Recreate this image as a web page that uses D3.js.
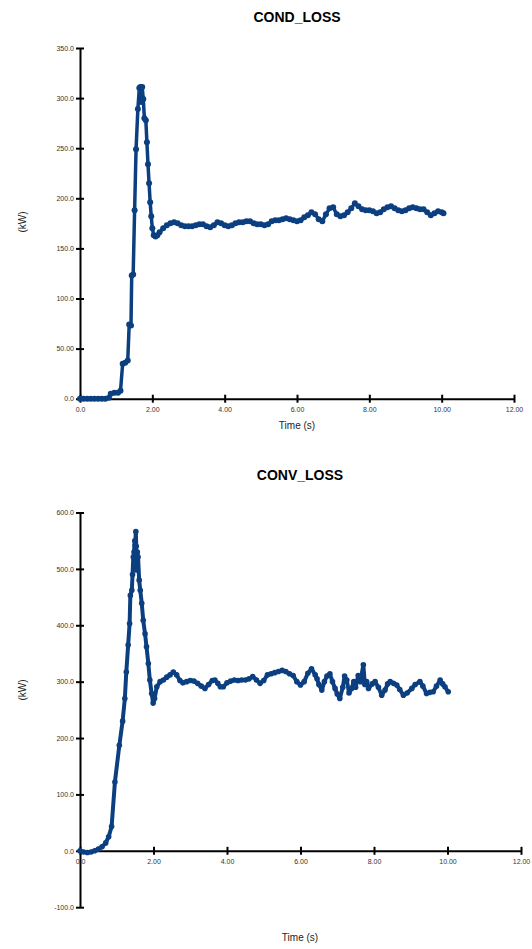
<!DOCTYPE html>
<html>
<head>
<meta charset="utf-8">
<script src="https://cdn.jsdelivr.net/npm/d3@7"></script>
<style>
  body { margin: 0; background: #fff; }
  svg { display: block; }
  .axis path, .axis line { stroke: #000; stroke-width: 2; }
  .axis text { font-family: "Liberation Sans", Arial, sans-serif; font-size: 7px; fill: #333; }
  .title { font-family: "Liberation Sans", Arial, sans-serif; font-size: 14px; font-weight: bold; }
  .lab { font-family: "Liberation Sans", Arial, sans-serif; font-size: 10px; fill: #222; }
</style>
</head>
<body>
<div id="chart"></div>
<script>
var blue = '#0c3f80';

// COND_LOSS (kW) vs time (s)
var condTime = [0.0, 0.1, 0.2, 0.3, 0.4, 0.5, 0.6, 0.7, 0.8, 0.85, 0.95, 1.05, 1.12, 1.18, 1.25, 1.32, 1.36, 1.41, 1.43, 1.47,
  1.51, 1.55, 1.6, 1.64, 1.67, 1.69, 1.72, 1.75, 1.78, 1.82, 1.85, 1.88, 1.91, 1.94, 1.97, 2.0, 2.04, 2.09, 2.14, 2.2,
  2.3, 2.4, 2.5, 2.6, 2.7, 2.8, 2.9, 3.0, 3.1, 3.2, 3.3, 3.4, 3.5, 3.6, 3.7, 3.8, 3.9, 4.0, 4.1, 4.2,
  4.3, 4.4, 4.5, 4.6, 4.7, 4.8, 4.9, 5.0, 5.1, 5.2, 5.3, 5.4, 5.5, 5.6, 5.7, 5.8, 5.9, 6.0, 6.1, 6.2,
  6.3, 6.4, 6.5, 6.6, 6.7, 6.8, 6.9, 7.0, 7.1, 7.2, 7.3, 7.4, 7.5, 7.6, 7.7, 7.8, 7.9, 8.0, 8.1, 8.2,
  8.3, 8.4, 8.5, 8.6, 8.7, 8.8, 8.9, 9.0, 9.1, 9.2, 9.3, 9.4, 9.5, 9.6, 9.7, 9.8, 9.9, 10.0, 10.05];
var condLoss = [0, 0, 0, 0, 0, 0, 0, 0, 1, 5, 6, 6, 8, 35, 36, 38, 74, 73, 123, 124,
  188, 249, 289, 310, 311, 296, 311, 299, 280, 278, 256, 234, 215, 196, 182, 170, 163, 162, 163, 166,
  170, 173, 175, 176, 175, 173, 172, 172, 172, 173, 174, 174, 172, 171, 173, 176, 175, 173, 172, 173,
  175, 176, 176, 177, 177, 175, 174, 174, 173, 174, 177, 178, 178, 179, 180, 179, 178, 177, 178, 181,
  183, 186, 184, 179, 177, 184, 190, 191, 184, 182, 183, 186, 190, 195, 192, 189, 188, 188, 187, 185,
  186, 189, 191, 192, 190, 188, 187, 188, 190, 191, 190, 189, 189, 186, 183, 185, 187, 186, 185];

// CONV_LOSS (kW) vs time (s)
var convTime = [0.0, 0.1, 0.2, 0.3, 0.4, 0.5, 0.6, 0.7, 0.78, 0.86, 0.95, 1.07, 1.16, 1.22, 1.26, 1.31, 1.35, 1.37, 1.41, 1.43,
  1.45, 1.47, 1.49, 1.5, 1.52, 1.53, 1.54, 1.56, 1.58, 1.61, 1.64, 1.68, 1.72, 1.77, 1.81, 1.86, 1.9, 1.95, 1.99, 2.03,
  2.09, 2.18, 2.27, 2.36, 2.45, 2.54, 2.63, 2.72, 2.8, 2.9, 3.0, 3.1, 3.2, 3.3, 3.4, 3.5, 3.6, 3.67, 3.75, 3.82,
  3.9, 4.0, 4.1, 4.2, 4.3, 4.4, 4.5, 4.6, 4.7, 4.8, 4.9, 5.0, 5.1, 5.2, 5.3, 5.4, 5.5, 5.6, 5.7, 5.8,
  5.9, 6.0, 6.1, 6.2, 6.3, 6.4, 6.45, 6.5, 6.58, 6.65, 6.72, 6.8, 6.87, 6.94, 7.0, 7.07, 7.15, 7.2, 7.26, 7.32,
  7.39, 7.45, 7.5, 7.57, 7.63, 7.71, 7.75, 7.8, 7.85, 7.95, 8.03, 8.12, 8.21, 8.3, 8.37, 8.44, 8.53, 8.62, 8.7, 8.8,
  8.9, 9.03, 9.12, 9.25, 9.33, 9.43, 9.52, 9.61, 9.7, 9.8, 9.87, 9.93, 10.02];
var convLoss = [0, -2, -3, -2, 0, 3, 7, 14, 25, 43, 122, 187, 230, 270, 317, 365, 403, 453, 462, 490,
  521, 530, 550, 542, 566, 540, 498, 530, 521, 480, 462, 439, 409, 385, 362, 332, 303, 279, 262, 270,
  291, 300, 303, 308, 312, 317, 312, 302, 298, 300, 302, 301, 297, 292, 288, 295, 302, 303, 297, 291,
  291, 298, 301, 303, 302, 303, 303, 305, 309, 303, 297, 302, 312, 314, 316, 318, 320, 318, 314, 311,
  300, 294, 300, 315, 323, 312, 305, 295, 285, 300, 310, 314, 300, 288, 278, 270, 290, 310, 303, 280,
  288, 300, 290, 311, 300, 330, 295, 300, 288, 296, 300, 290, 276, 285, 296, 300, 297, 294, 286, 276,
  280, 288, 295, 300, 292, 279, 281, 282, 292, 303, 296, 291, 282];

var xTicks = [0, 2, 4, 6, 8, 10, 12];
var xTickLabels = ['0.0', '2.00', '4.00', '6.00', '8.00', '10.00', '12.00'];
var condTicks = [0, 50, 100, 150, 200, 250, 300, 350];
var condTickLabels = ['0.0', '50.00', '100.0', '150.0', '200.0', '250.0', '300.0', '350.0'];
var convTicks = [-100, 0, 100, 200, 300, 400, 500, 600];
var convTickLabels = ['-100.0', '0.0', '100.0', '200.0', '300.0', '400.0', '500.0', '600.0'];

var svg = d3.select('#chart').append('svg')
  .attr('width', 532)
  .attr('height', 949);

function drawPanel(opt) {
  var x = d3.scaleLinear().domain([0, 12]).range([opt.left, opt.right]);
  var y = d3.scaleLinear().domain(opt.yDomain).range(opt.yRange);

  var g = svg.append('g');

  // title and axis labels
  g.append('text').attr('class', 'title')
    .attr('x', opt.titleX).attr('y', opt.titleY)
    .attr('text-anchor', 'middle').text(opt.title);
  g.append('text').attr('class', 'lab')
    .attr('x', opt.titleX).attr('y', opt.xLabY)
    .attr('text-anchor', 'middle').text('Time (s)');
  g.append('text').attr('class', 'lab')
    .attr('transform', 'translate(26,' + opt.yLabY + ') rotate(-90)')
    .attr('text-anchor', 'middle').text('(kW)');

  // x axis sits at value 0
  var xAxis = d3.axisBottom(x).tickValues(xTicks)
    .tickFormat(function(d, i) { return xTickLabels[i]; })
    .tickSize(4).tickSizeOuter(0).tickPadding(4);
  var gx = g.append('g').attr('class', 'axis')
    .attr('transform', 'translate(0,' + y(0) + ')')
    .call(xAxis);
  gx.selectAll('.tick line').attr('y1', -4);
  gx.selectAll('.tick text').attr('dy', '0.71em');

  var yAxis = d3.axisLeft(y).tickValues(opt.yTicks)
    .tickFormat(function(d, i) { return opt.yTickLabels[i]; })
    .tickSize(4).tickSizeOuter(0).tickPadding(2);
  var gy = g.append('g').attr('class', 'axis')
    .attr('transform', 'translate(' + opt.left + ',0)')
    .call(yAxis);
  gy.selectAll('.tick line').attr('x1', 4);
  gy.selectAll('.tick').filter(function(d) { return d === 0; }).select('line').attr('x1', 0);

  var pts = opt.t.map(function(d, i) { return [d, opt.v[i]]; });
  var line = d3.line()
    .x(function(d) { return x(d[0]); })
    .y(function(d) { return y(d[1]); });

  g.append('path').datum(pts)
    .attr('fill', 'none')
    .attr('stroke', blue)
    .attr('stroke-width', opt.lw)
    .attr('stroke-linejoin', 'round')
    .attr('d', line);

  g.selectAll('circle.m').data(pts).enter().append('circle')
    .attr('class', 'm')
    .attr('cx', function(d) { return x(d[0]); })
    .attr('cy', function(d) { return y(d[1]); })
    .attr('r', opt.r)
    .attr('fill', blue);
}

drawPanel({
  title: 'COND_LOSS', titleX: 297, titleY: 22, xLabY: 429, yLabY: 222,
  left: 80, right: 514,
  yDomain: [0, 350], yRange: [398.7, 48],
  yTicks: condTicks, yTickLabels: condTickLabels,
  t: condTime, v: condLoss, lw: 3.5, r: 3
});

drawPanel({
  title: 'CONV_LOSS', titleX: 300, titleY: 480, xLabY: 941, yLabY: 690,
  left: 80, right: 521,
  yDomain: [-100, 600], yRange: [907.2, 512.5],
  yTicks: convTicks, yTickLabels: convTickLabels,
  t: convTime, v: convLoss, lw: 4, r: 2.8
});
</script>
</body>
</html>
